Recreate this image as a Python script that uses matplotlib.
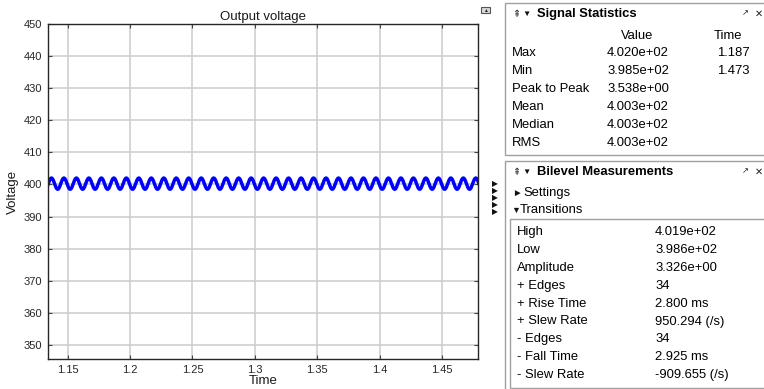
import matplotlib
matplotlib.use('Agg')
import matplotlib.pyplot as plt
import matplotlib.patches as mpatches
import numpy as np

plt.rcParams['font.family'] = ['Liberation Sans', 'DejaVu Sans']

ripple_cycle = [402.00, 401.91, 401.67, 401.28, 400.79, 400.25, 399.71, 399.22, 398.83, 398.59,
                398.50, 398.59, 398.83, 399.22, 399.71, 400.25, 400.79, 401.28, 401.67, 401.91]
n_cycles = 36
t_start = 1.127
dt = 0.0005

x_ticks = [1.15, 1.2, 1.25, 1.3, 1.35, 1.4, 1.45]
x_labels = ['1.15', '1.2', '1.25', '1.3', '1.35', '1.4', '1.45']
y_ticks = [350, 360, 370, 380, 390, 400, 410, 420, 430, 440, 450]

stat_names = ['Max', 'Min', 'Peak to Peak', 'Mean', 'Median', 'RMS']
stat_values = ['4.020e+02', '3.985e+02', '3.538e+00', '4.003e+02', '4.003e+02', '4.003e+02']
stat_times = ['1.187', '1.473', '', '', '', '']

bilevel_names = ['High', 'Low', 'Amplitude', '+ Edges', '+ Rise Time', '+ Slew Rate',
                 '- Edges', '- Fall Time', '- Slew Rate']
bilevel_values = ['4.019e+02', '3.986e+02', '3.326e+00', '34', '2.800 ms', '950.294 (/s)',
                  '34', '2.925 ms', '-909.655 (/s)']

W, H = 764, 389
voltage = np.tile(ripple_cycle, n_cycles)
time = t_start + np.arange(len(voltage)) * dt

fig = plt.figure(figsize=(W / 100, H / 100), dpi=100)
fig.patch.set_facecolor('white')


def fx(x):
    return x / W


def fy(y):
    return 1 - y / H


# --- scope axes ---
ax = fig.add_axes([fx(47.7), fy(359), fx(478.3 - 47.7), (359 - 24) / H])
ax.plot(time, voltage, color='#0000ff', lw=2.5, solid_joinstyle='round')
ax.set_xlim(1.134, 1.479)
ax.set_ylim(345.6, 450)
ax.set_xticks(x_ticks)
ax.set_xticklabels(x_labels)
ax.set_yticks(y_ticks)
ax.grid(True, color='#cccccc', lw=1.1)
ax.set_axisbelow(True)
ax.tick_params(direction='in', top=True, right=True, length=3, width=0.8,
               color='#444444', labelsize=8, labelcolor='#262626', pad=4)
for s in ax.spines.values():
    s.set_color('#262626')
    s.set_linewidth(1.0)
ax.set_title('Output voltage', fontsize=9.5, color='#1a1a1a', pad=3)
ax.set_xlabel('Time', fontsize=9.5, color='#1a1a1a', labelpad=0)
ax.set_ylabel('Voltage', fontsize=9.5, color='#1a1a1a', labelpad=3)

# small button and arrow markers next to the scope
fig.add_artist(mpatches.Rectangle((fx(480.5), fy(13)), 9 / W, 6 / H, transform=fig.transFigure,
                                  facecolor='#d8d8d8', edgecolor='#555555', lw=0.8))
fig.text(fx(485), fy(10.3), '▲', fontsize=3.5, ha='center', va='center', color='#222222')
for yy in [185, 192, 199, 206, 213]:
    fig.text(fx(495), fy(yy), '▶', fontsize=5.5, ha='center', va='center', color='#111111')

# --- Signal Statistics panel ---
border = '#a0a0a0'
fig.add_artist(mpatches.Rectangle((fx(505), fy(155)), (W + 5 - 505) / W, (155 - 3) / H,
                                  transform=fig.transFigure, facecolor='white',
                                  edgecolor=border, lw=1.0))
fs = 9.4
fig.text(fx(512), fy(14), '⇞', fontsize=7, ha='left', va='center', color='#333333')
fig.text(fx(522), fy(14), '▼', fontsize=6, ha='left', va='center', color='#111111')
fig.text(fx(537), fy(14), 'Signal Statistics', fontsize=fs, fontweight='bold', ha='left', va='center')
fig.text(fx(745), fy(14), '↗', fontsize=6, ha='center', va='center', color='#222222')
fig.text(fx(759), fy(14), '✕', fontsize=7, ha='center', va='center', color='#222222')
fig.text(fx(637), fy(36), 'Value', fontsize=fs, ha='center', va='center')
fig.text(fx(728), fy(36), 'Time', fontsize=fs, ha='center', va='center')
for i, (nm, v, t) in enumerate(zip(stat_names, stat_values, stat_times)):
    yy = 53 + i * 18
    fig.text(fx(512), fy(yy), nm, fontsize=fs, ha='left', va='center')
    fig.text(fx(607), fy(yy), v, fontsize=fs, ha='left', va='center')
    if t:
        fig.text(fx(750), fy(yy), t, fontsize=fs, ha='right', va='center')

# --- Bilevel Measurements panel ---
fig.add_artist(mpatches.Rectangle((fx(505), fy(395)), (W + 5 - 505) / W, (395 - 161) / H,
                                  transform=fig.transFigure, facecolor='white',
                                  edgecolor=border, lw=1.0))
fig.text(fx(512), fy(172), '⇞', fontsize=7, ha='left', va='center', color='#333333')
fig.text(fx(522), fy(172), '▼', fontsize=6, ha='left', va='center', color='#111111')
fig.text(fx(537), fy(172), 'Bilevel Measurements', fontsize=fs, fontweight='bold', ha='left', va='center')
fig.text(fx(745), fy(172), '↗', fontsize=6, ha='center', va='center', color='#222222')
fig.text(fx(759), fy(172), '✕', fontsize=7, ha='center', va='center', color='#222222')
fig.text(fx(512), fy(193), '►', fontsize=7, ha='left', va='center', color='#111111')
fig.text(fx(523), fy(193), 'Settings', fontsize=fs, ha='left', va='center')
fig.text(fx(511), fy(210), '▼', fontsize=6.5, ha='left', va='center', color='#111111')
fig.text(fx(520), fy(210), 'Transitions', fontsize=fs, ha='left', va='center')
fig.add_artist(mpatches.Rectangle((fx(510), fy(388)), (W + 5 - 510) / W, (388 - 219) / H,
                                  transform=fig.transFigure, facecolor='white',
                                  edgecolor=border, lw=1.0))
for i, (nm, v) in enumerate(zip(bilevel_names, bilevel_values)):
    yy = 232 + i * 17.9
    fig.text(fx(517), fy(yy), nm, fontsize=fs, ha='left', va='center')
    fig.text(fx(655), fy(yy), v, fontsize=fs, ha='left', va='center')

fig.savefig('out.png', dpi=100)
